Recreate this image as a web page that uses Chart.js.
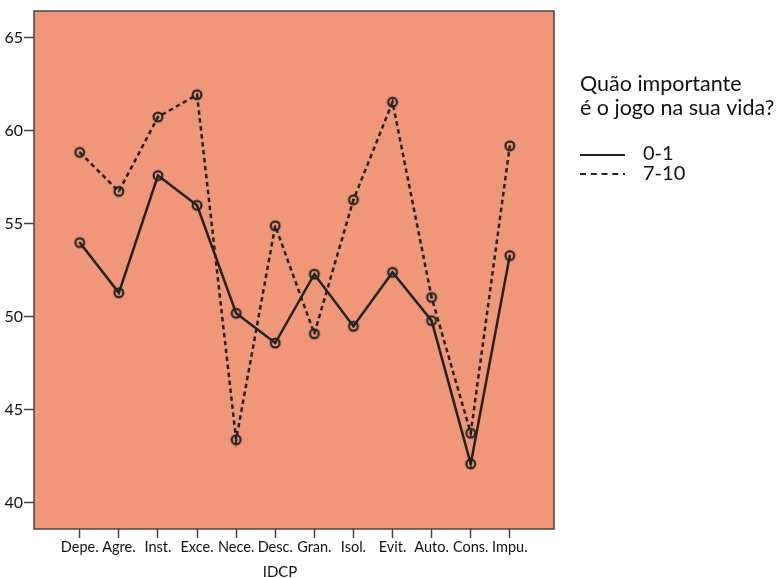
<!DOCTYPE html>
<html>
<head>
<meta charset="utf-8">
<script src="https://cdn.jsdelivr.net/npm/chart.js@4"></script>
<style>
  html, body { margin: 0; padding: 0; background: #fff; }
  #wrap { width: 777px; height: 578px; position: relative; }
</style>
</head>
<body>
<div id="wrap"><canvas id="chart" width="777" height="578"></canvas></div>
<script>
// categories (IDCP subscales)
const categories = ['Depe.', 'Agre.', 'Inst.', 'Exce.', 'Nece.', 'Desc.', 'Gran.', 'Isol.', 'Evit.', 'Auto.', 'Cons.', 'Impu.'];
// series values
const low = [54.0, 51.3, 57.6, 56.0, 50.2, 48.6, 52.3, 49.5, 52.4, 49.8, 42.1, 53.3];   // 0-1
const high = [58.85, 56.75, 60.75, 61.95, 43.4, 54.9, 49.1, 56.3, 61.55, 51.05, 43.75, 59.2]; // 7-10
const yTicks = [40, 45, 50, 55, 60, 65];
const legendTitle = ['Quão importante', 'é o jogo na sua vida?'];
const seriesNames = ['0-1', '7-10'];

const ink = '#222222';
const fontFam = "Lato, 'Open Sans', sans-serif";

// ring with a dot in the middle, like the reference markers
const marker = document.createElement('canvas');
marker.width = 14; marker.height = 14;
(() => {
    const m = marker.getContext('2d');
    m.strokeStyle = ink;
    m.lineWidth = 2.2;
    m.beginPath(); m.arc(7, 7, 4.4, 0, Math.PI * 2); m.stroke();
    m.fillStyle = ink;
    m.beginPath(); m.arc(7, 7, 1.1, 0, Math.PI * 2); m.fill();
})();

const toPoints = arr => arr.map((v, i) => ({ x: i, y: v }));

// orange plot background + frame, legend and axis title
const decor = {
    id: 'decor',
    beforeDraw(chart) {
        const { ctx, chartArea: a } = chart;
        ctx.save();
        ctx.fillStyle = '#F0977A';
        ctx.fillRect(a.left, a.top, a.right - a.left, a.bottom - a.top);
        ctx.restore();
    },
    afterDraw(chart) {
        const { ctx, chartArea: a } = chart;
        ctx.save();
        ctx.strokeStyle = '#444';
        ctx.lineWidth = 1.5;
        ctx.strokeRect(a.left, a.top, a.right - a.left, a.bottom - a.top);

        // legend
        ctx.fillStyle = '#111';
        ctx.font = '21.5px ' + fontFam;
        ctx.textBaseline = 'alphabetic';
        ctx.fillText(legendTitle[0], 580, 91);
        ctx.fillText(legendTitle[1], 580, 115);
        ctx.strokeStyle = ink;
        ctx.lineWidth = 2;
        ctx.beginPath(); ctx.moveTo(580, 155); ctx.lineTo(625, 155); ctx.stroke();
        ctx.setLineDash([6, 4.75]);
        ctx.beginPath(); ctx.moveTo(580, 174); ctx.lineTo(625, 174); ctx.stroke();
        ctx.setLineDash([]);
        ctx.font = '20px ' + fontFam;
        ctx.fillText(seriesNames[0], 643, 160);
        ctx.fillText(seriesNames[1], 643, 180);

        // x axis title
        ctx.font = '15px ' + fontFam;
        ctx.textAlign = 'center';
        ctx.fillText('IDCP', 280, 577);
        ctx.restore();
    }
};

new Chart(document.getElementById('chart'), {
    type: 'line',
    data: {
        datasets: [
            {
                label: seriesNames[0],
                data: toPoints(low),
                borderColor: ink,
                borderWidth: 2.5,
                pointStyle: marker,
                tension: 0
            },
            {
                label: seriesNames[1],
                data: toPoints(high),
                borderColor: ink,
                borderWidth: 2.5,
                borderDash: [4.5, 3.5],
                pointStyle: marker,
                tension: 0
            }
        ]
    },
    options: {
        responsive: false,
        animation: false,
        layout: { padding: { top: 11, right: 223, left: 0, bottom: 0 } },
        plugins: {
            legend: { display: false },
            tooltip: { enabled: false }
        },
        scales: {
            x: {
                type: 'linear',
                min: -1.17,
                max: 12.13,
                afterBuildTicks: axis => { axis.ticks = categories.map((c, i) => ({ value: i })); },
                afterFit: axis => { axis.height = 49; },
                grid: { drawOnChartArea: false, tickLength: 9, color: '#444', tickWidth: 1.5 },
                border: { display: false },
                ticks: {
                    color: '#111',
                    padding: 1,
                    maxRotation: 0,
                    autoSkip: false,
                    font: { family: fontFam, size: 14.5 },
                    callback: v => categories[v]
                }
            },
            y: {
                min: 38.6,
                max: 66.45,
                afterBuildTicks: axis => { axis.ticks = yTicks.map(v => ({ value: v })); },
                afterFit: axis => { axis.width = 34; },
                grid: { drawOnChartArea: false, tickLength: 10, color: '#444', tickWidth: 1.5 },
                border: { display: false },
                ticks: {
                    color: '#111',
                    padding: 1,
                    font: { family: fontFam, size: 16 }
                }
            }
        }
    },
    plugins: [decor]
});
</script>
</body>
</html>
